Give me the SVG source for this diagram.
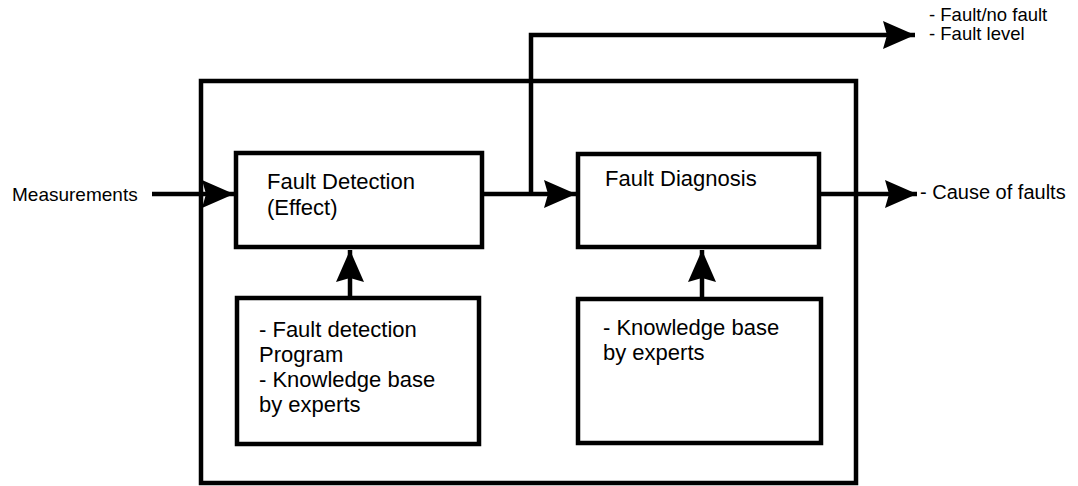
<svg xmlns="http://www.w3.org/2000/svg" width="1078" height="486" viewBox="0 0 1078 486">
  <style>
    .box { fill: #fff; stroke: #000; stroke-width: 4.5; }
    .frame { fill: none; stroke: #000; stroke-width: 4.5; }
    .wire { fill: none; stroke: #000; stroke-width: 4.5; }
    .t { font-family: "Liberation Sans", Arial, Helvetica, sans-serif; fill: #000; }
    .in { font-size: 22px; }
    .lbl { font-size: 20px; }
  </style>
  <defs>
    <marker id="head" markerUnits="userSpaceOnUse" markerWidth="36" markerHeight="32" viewBox="-34 -16 36 32" refX="0" refY="0" orient="auto">
      <path d="M0,0 L-32,-14 L-28,0 L-32,14 Z" fill="#000"/>
    </marker>
  </defs>

  <rect width="1078" height="486" fill="#fff"/>

  <!-- system boundary -->
  <rect id="system" class="frame" x="201" y="81" width="655" height="402"/>

  <!-- connectors -->
  <g id="connectors">
    <line class="wire" x1="152" y1="194" x2="234" y2="194" marker-end="url(#head)"/>
    <line class="wire" x1="482" y1="194" x2="576" y2="194" marker-end="url(#head)"/>
    <path class="wire" d="M531,194 V35 H915" marker-end="url(#head)"/>
    <line class="wire" x1="819" y1="194" x2="917" y2="194" marker-end="url(#head)"/>
    <line class="wire" x1="350" y1="298" x2="350" y2="250" marker-end="url(#head)"/>
    <line class="wire" x1="702" y1="299" x2="702" y2="250" marker-end="url(#head)"/>
  </g>

  <!-- nodes -->
  <g id="fault-detection">
    <rect class="box" x="236" y="153" width="246" height="94"/>
    <text class="t in" x="267" y="189">Fault Detection</text>
    <text class="t in" x="267" y="215">(Effect)</text>
  </g>

  <g id="fault-diagnosis">
    <rect class="box" x="578" y="154" width="241" height="93"/>
    <text class="t in" x="605" y="186">Fault Diagnosis</text>
  </g>

  <g id="detection-knowledge">
    <rect class="box" x="237" y="298" width="242" height="146"/>
    <text class="t in" x="259" y="337">- Fault detection</text>
    <text class="t in" x="259" y="362">Program</text>
    <text class="t in" x="259" y="387">- Knowledge base</text>
    <text class="t in" x="259" y="412">by experts</text>
  </g>

  <g id="diagnosis-knowledge">
    <rect class="box" x="578" y="299" width="243" height="144"/>
    <text class="t in" x="603" y="335">- Knowledge base</text>
    <text class="t in" x="603" y="360">by experts</text>
  </g>

  <g id="measurements">
    <text class="t" font-size="19" x="12" y="201">Measurements</text>
  </g>

  <g id="detection-output">
    <text class="t" font-size="18.5" x="929" y="21">- Fault/no fault</text>
    <text class="t" font-size="18.5" x="929" y="40">- Fault level</text>
  </g>

  <g id="diagnosis-output">
    <text class="t lbl" x="920" y="199">- Cause of faults</text>
  </g>
</svg>
